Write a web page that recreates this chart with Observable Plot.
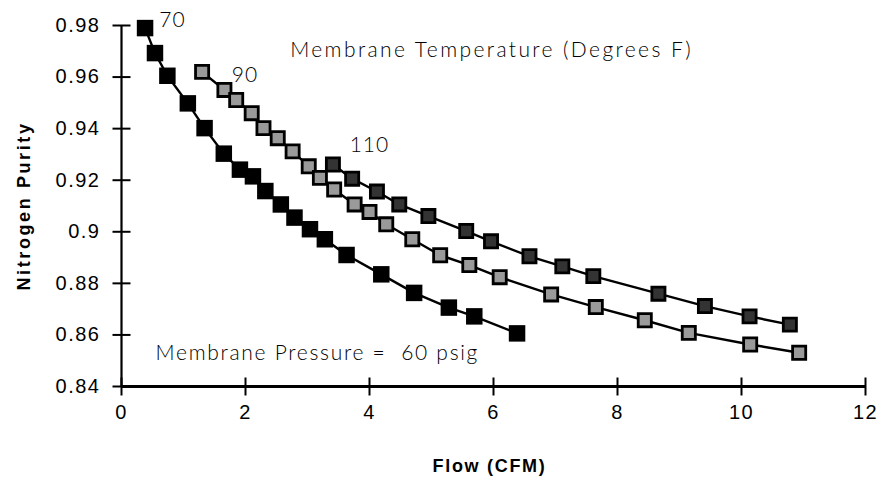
<!DOCTYPE html>
<html>
<head>
<meta charset="utf-8">
<script src="https://cdn.jsdelivr.net/npm/d3@7"></script>
<script src="https://cdn.jsdelivr.net/npm/@observablehq/plot@0.6"></script>
<style>
  html, body { margin: 0; padding: 0; background: #fff; }
  #chart svg { display: block; }
</style>
</head>
<body>
<div id="chart"></div>
<script>
// Series: 70 °F
const flow70   = [0.38, 0.54, 0.74, 1.07, 1.34, 1.65, 1.91, 2.12, 2.32, 2.57, 2.79, 3.04, 3.28, 3.63, 4.19, 4.72, 5.28, 5.69, 6.38];
const purity70 = [0.979, 0.9693, 0.9605, 0.9498, 0.9402, 0.9303, 0.9241, 0.9215, 0.9158, 0.9106, 0.9055, 0.901, 0.8971, 0.891, 0.8835, 0.8763, 0.8706, 0.8672, 0.8606];
// Series: 90 °F
const flow90   = [1.30, 1.66, 1.85, 2.10, 2.29, 2.52, 2.76, 3.02, 3.20, 3.43, 3.76, 4.00, 4.27, 4.69, 5.14, 5.61, 6.10, 6.93, 7.65, 8.44, 9.15, 10.14, 10.93];
const purity90 = [0.962, 0.955, 0.9511, 0.946, 0.9402, 0.9363, 0.9312, 0.9254, 0.9209, 0.9164, 0.9106, 0.9077, 0.9029, 0.8971, 0.8909, 0.8871, 0.8824, 0.8757, 0.8708, 0.8657, 0.8608, 0.8563, 0.8531];
// Series: 110 °F
const flow110   = [3.41, 3.72, 4.12, 4.48, 4.95, 5.56, 5.96, 6.58, 7.11, 7.61, 8.66, 9.41, 10.13, 10.78];
const purity110 = [0.9261, 0.9206, 0.9156, 0.9106, 0.9061, 0.9003, 0.8963, 0.8905, 0.8866, 0.8828, 0.876, 0.8712, 0.8672, 0.864];

const xTicks = [0, 2, 4, 6, 8, 10, 12];
const xTickLabels = ["0", "2", "4", "6", "8", "10", "12"];
const yTicks = [0.84, 0.86, 0.88, 0.9, 0.92, 0.94, 0.96, 0.98];
const yTickLabels = ["0.84", "0.86", "0.88", "0.9", "0.92", "0.94", "0.96", "0.98"];

const seriesLabels = ["70", "90", "110"];
const seriesLabelX = [0.61, 1.78, 3.68];
const seriesLabelY = [0.9822, 0.9607, 0.9334];

const noteTexts = ["Membrane Temperature (Degrees F)", "Membrane Pressure =  60 psig"];
const noteX = [2.72, 0.55];
const noteY = [0.9704, 0.8528];

const xLabel = "Flow (CFM)";
const yLabel = "Nitrogen Purity";

const toRows = (xs, ys) => xs.map((x, i) => ({x, y: ys[i]}));
const s70 = toRows(flow70, purity70);
const s90 = toRows(flow90, purity90);
const s110 = toRows(flow110, purity110);
const seriesLabelRows = seriesLabels.map((t, i) => ({t, x: seriesLabelX[i], y: seriesLabelY[i]}));
const noteRows = noteTexts.map((t, i) => ({t, x: noteX[i], y: noteY[i]}));

const annotFont = "Lato, 'DejaVu Sans', sans-serif";
const axisFont = "'Liberation Sans', Arial, sans-serif";

// tick symbols crossing the axis lines
const hTick = {draw(ctx, size) { const r = Math.sqrt(size / Math.PI); ctx.moveTo(-r, 0); ctx.lineTo(r, 0); }};
const vTick = {draw(ctx, size) { const r = Math.sqrt(size / Math.PI); ctx.moveTo(0, -r); ctx.lineTo(0, r); }};

const chart = Plot.plot({
  width: 881,
  height: 494,
  marginLeft: 121,
  marginRight: 16,
  marginTop: 25,
  marginBottom: 108,
  style: {background: "#fff", color: "#000", fontFamily: axisFont},
  x: {domain: [0, 12], axis: null},
  y: {domain: [0.84, 0.98], axis: null},
  marks: [
    // axis lines
    Plot.ruleX([0], {stroke: "#000", strokeWidth: 2.2}),
    Plot.ruleY([0.84], {stroke: "#000", strokeWidth: 3}),
    // crossing ticks
    Plot.dot(yTicks, {x: 0, y: (d) => d, symbol: hTick, r: 9, fill: "none", stroke: "#000", strokeWidth: 2}),
    Plot.dot(xTicks, {x: (d) => d, y: 0.84, symbol: vTick, r: 9, fill: "none", stroke: "#000", strokeWidth: 2}),
    // tick labels
    Plot.text(yTicks, {x: 0, y: (d) => d, text: (d, i) => yTickLabels[i], textAnchor: "end", dx: -21,
      fontSize: 20, fontFamily: axisFont}),
    Plot.text(xTicks, {x: (d) => d, y: 0.84, text: (d, i) => xTickLabels[i], lineAnchor: "top", dy: 18,
      fontSize: 20, fontFamily: axisFont}),
    // axis titles
    Plot.text([yLabel], {frameAnchor: "left", dx: -97, rotate: -90, textAnchor: "middle", lineAnchor: "middle",
      fontSize: 18, fontWeight: "bold", fontFamily: axisFont}),
    Plot.text([xLabel], {frameAnchor: "bottom", dy: 80, dx: -4, textAnchor: "middle", lineAnchor: "middle",
      fontSize: 18, fontWeight: "bold", fontFamily: axisFont}),
    // lines
    Plot.line(s70, {x: "x", y: "y", stroke: "#000", strokeWidth: 2.4}),
    Plot.line(s90, {x: "x", y: "y", stroke: "#000", strokeWidth: 2.4}),
    Plot.line(s110, {x: "x", y: "y", stroke: "#000", strokeWidth: 2.4}),
    // markers
    Plot.dot(s70, {x: "x", y: "y", symbol: "square", r: 9.3, fill: "#000", stroke: "none"}),
    Plot.dot(s90, {x: "x", y: "y", symbol: "square", r: 7.4, fill: "#9a9a9a", stroke: "#000", strokeWidth: 2.8}),
    Plot.dot(s110, {x: "x", y: "y", symbol: "square", r: 7.4, fill: "#333", stroke: "#000", strokeWidth: 2.8}),
    // annotations
    Plot.text(seriesLabelRows, {x: "x", y: "y", text: "t", textAnchor: "start", fontSize: 21, fontWeight: 300,
      fontFamily: annotFont}),
    Plot.text(noteRows, {x: "x", y: "y", text: "t", textAnchor: "start", fontSize: 21, fontWeight: 300,
      fontFamily: annotFont})
  ]
});

// letter spacing, applied per text element by content
const spacing = new Map();
yTickLabels.forEach((t) => spacing.set(t, "1.5px"));
xTickLabels.forEach((t) => spacing.set(t, "1.5px"));
seriesLabels.forEach((t) => spacing.set(t, "1px"));
spacing.set(noteTexts[0], "2.4px");
spacing.set(noteTexts[1], "1.7px");
spacing.set(yLabel, "2.6px");
spacing.set(xLabel, "1.7px");
chart.querySelectorAll("text").forEach((el) => {
  const s = spacing.get(el.textContent);
  if (s) el.style.letterSpacing = s;
});
document.getElementById("chart").appendChild(chart);
</script>
</body>
</html>
